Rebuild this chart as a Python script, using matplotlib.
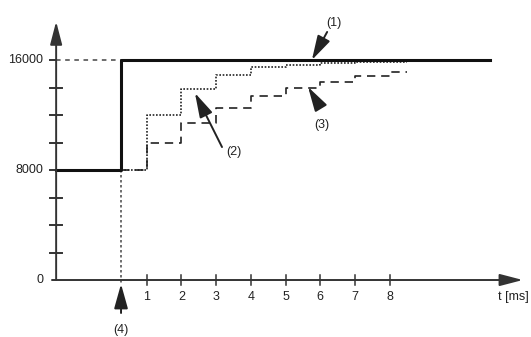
import numpy as np
import matplotlib
matplotlib.use('Agg')
import matplotlib.pyplot as plt

plt.rcParams['font.family'] = ['Liberation Sans', 'DejaVu Sans']

# step response data (t in ms, value in counts)
t_step = 0.26
t_end_solid = 10.9
solid_t = [-1.61, t_step, t_end_solid]
solid_v = [8000, 16000, 16000]

dot_t = [t_step, 1, 2, 3, 4, 5, 6, 7, 8.5]
dot_v = [8000, 12000, 13900, 14900, 15500, 15650, 15750, 15850, 15850]

dash_t = [t_step, 1, 2, 3, 4, 5, 6, 7, 8, 8.5]
dash_v = [8000, 10000, 11400, 12500, 13400, 14000, 14400, 14850, 15100, 15100]

x_ticks = [1, 2, 3, 4, 5, 6, 7, 8]
y_labels = [0, 8000, 16000]
y_minor = [2000, 4000, 6000, 10000, 12000, 14000]

fig = plt.figure(figsize=(5.31, 3.37), dpi=100)
ax = fig.add_axes([0, 0, 1, 1])
ax.set_xlim(-3.228, 12.075)
ax.set_ylim(-4145, 20364)
ax.axis('off')

axis_x = -1.61
axis_col = '#333333'

# axes with arrow heads
ax.annotate('', xy=(axis_x, 18800), xytext=(axis_x, 0),
            arrowprops=dict(arrowstyle='-|>,head_length=1.0,head_width=0.26',
                            mutation_scale=14, lw=1.4, color=axis_col,
                            shrinkA=0, shrinkB=0))
ax.annotate('', xy=(11.84, 0), xytext=(-1.73, 0),
            arrowprops=dict(arrowstyle='-|>,head_length=1.0,head_width=0.26',
                            mutation_scale=14, lw=1.4, color=axis_col,
                            shrinkA=0, shrinkB=0))

# ticks
for v in y_minor:
    ax.plot([axis_x - 0.17, axis_x + 0.17], [v, v], color=axis_col, lw=1.4)
for v in [8000, 16000]:
    ax.plot([axis_x - 0.17, axis_x], [v, v], color=axis_col, lw=1.4)
for t in x_ticks:
    ax.plot([t, t], [-364, 364], color=axis_col, lw=1.1)
    ax.text(t, -1236, str(t), ha='center', va='center', fontsize=9, color='#222222')
for v in y_labels:
    ax.text(-1.98, v, str(v), ha='right', va='center', fontsize=9, color='#222222')
ax.text(12.02, -1236, 't [ms]', ha='right', va='center', fontsize=9, color='#222222')

# guide lines
ax.plot([axis_x, t_step], [16000, 16000], color='#444444', lw=1.1, dashes=(3, 3))
ax.plot([t_step, t_step], [8000, -300], color='#555555', lw=1.2, dashes=(1.5, 1.5))

# curves
ax.step(dash_t, dash_v, where='post', color='#222222', lw=1.2, dashes=(5, 3.5))
ax.step(dot_t, dot_v, where='post', color='#222222', lw=1.2, dashes=(1, 1))
ax.step(solid_t, solid_v, where='post', color='#111111', lw=2.2)

# callouts
arrow = dict(arrowstyle='-|>,head_length=1.0,head_width=0.28', mutation_scale=15,
             lw=1.4, color='#222222', shrinkA=0, shrinkB=0)
ax.annotate('', xy=(5.76, 16000), xytext=(6.2, 18040), arrowprops=arrow)
ax.text(6.40, 18690, '(1)', ha='center', va='center', fontsize=9, color='#222222')
ax.annotate('', xy=(2.39, 13600), xytext=(3.17, 9670), arrowprops=arrow)
ax.text(3.52, 9310, '(2)', ha='center', va='center', fontsize=9, color='#222222')
ax.annotate('', xy=(5.65, 14040), xytext=(6.0, 12580), arrowprops=arrow)
ax.text(6.05, 11270, '(3)', ha='center', va='center', fontsize=9, color='#222222')
ax.annotate('', xy=(t_step, -290), xytext=(t_step, -2400), arrowprops=arrow)
ax.text(t_step, -3640, '(4)', ha='center', va='center', fontsize=9, color='#222222')

fig.savefig('out.png', dpi=100)
